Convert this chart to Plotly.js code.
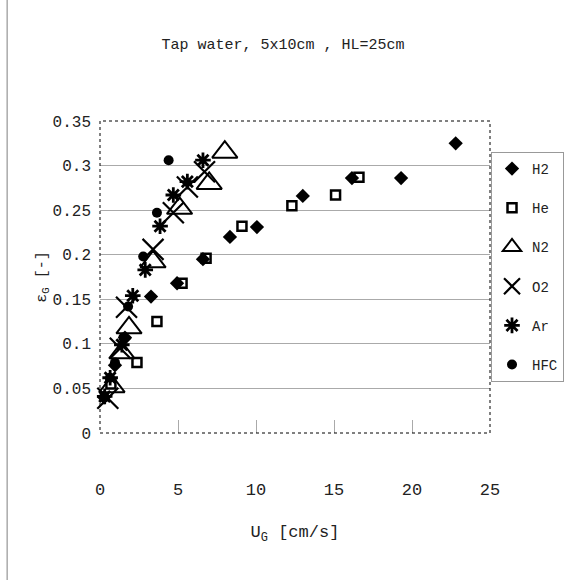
<!DOCTYPE html>
<html>
<head>
<meta charset="utf-8">
<script src="https://cdn.plot.ly/plotly-3.0.1.min.js"></script>
<style>html,body{margin:0;padding:0;background:#fff;}#chart{width:566px;height:580px;}</style>
</head>
<body>
<div id="chart"></div>
<script>
// Data (U_G in cm/s, gas holdup in -)
const seriesNames = ["H2", "He", "N2", "O2", "Ar", "HFC"];

const h2_x = [0.26, 0.96, 1.6, 3.27, 4.94, 6.6, 8.33, 10.06, 13.0, 16.15, 19.3, 22.8];
const h2_y = [0.040, 0.076, 0.107, 0.153, 0.168, 0.195, 0.220, 0.231, 0.266, 0.286, 0.286, 0.325];

const he_x = [0.7, 2.37, 3.65, 5.26, 6.8, 9.1, 12.3, 15.1, 16.6];
const he_y = [0.055, 0.079, 0.125, 0.168, 0.196, 0.232, 0.255, 0.267, 0.287];

const n2_x = [0.77, 1.4, 1.86, 3.4, 5.1, 7.0, 8.0];
const n2_y = [0.052, 0.090, 0.118, 0.192, 0.252, 0.280, 0.315];

const o2_x = [0.5, 1.3, 1.7, 3.4, 4.7, 5.6, 6.7];
const o2_y = [0.039, 0.095, 0.141, 0.206, 0.247, 0.276, 0.293];

const ar_x = [0.3, 0.65, 1.4, 2.1, 2.9, 3.85, 4.7, 5.6, 6.6];
const ar_y = [0.041, 0.062, 0.099, 0.154, 0.183, 0.232, 0.267, 0.282, 0.306];

const hfc_x = [0.3, 0.64, 0.96, 1.5, 1.8, 2.77, 3.65, 4.4];
const hfc_y = [0.040, 0.062, 0.079, 0.107, 0.142, 0.198, 0.247, 0.306];

const yTicks = [0, 0.05, 0.1, 0.15, 0.2, 0.25, 0.3, 0.35];
const xTicks = [0, 5, 10, 15, 20, 25];

const FONT = "Liberation Mono, Courier New, monospace";

function tr(name, xs, ys, marker, i) {
  return {type: "scatter", mode: "markers", name: name, x: xs, y: ys,
          marker: marker, legendgroup: "g" + i, cliponaxis: false};
}

const traces = [
  tr(seriesNames[0], h2_x, h2_y, {symbol: "diamond", size: 11, color: "#000"}, 0),
  tr(seriesNames[1], he_x, he_y, {symbol: "square-open", size: 9, color: "#000", line: {width: 2.5, color: "#000"}}, 1),
  tr(seriesNames[2], n2_x, n2_y, {symbol: "triangle-up-open", size: 22, color: "#000", line: {width: 2, color: "#000"}}, 2),
  tr(seriesNames[3], o2_x, o2_y, {symbol: "x-thin-open", size: 21, color: "#000", line: {width: 2.2, color: "#000"}}, 3),
  tr(seriesNames[4], ar_x, ar_y, {symbol: "asterisk-open", size: 13, color: "#000", line: {width: 2.8, color: "#000"}}, 4),
  tr(seriesNames[5], hfc_x, hfc_y, {symbol: "circle", size: 10, color: "#000"}, 5)
];

const layout = {
  width: 566, height: 580,
  margin: {l: 100, r: 76, t: 121, b: 147},
  paper_bgcolor: "#fff", plot_bgcolor: "#fff",
  font: {family: FONT, size: 17, color: "#222"},
  title: {text: "Tap water, 5x10cm , HL=25cm", font: {family: FONT, size: 15, color: "#222"},
          x: 0.5, xanchor: "center", y: 0.925, yanchor: "middle"},
  showlegend: true,
  legend: {xref: "container", yref: "container", x: 0.8675, xanchor: "left", y: 0.738, yanchor: "top",
           bordercolor: "#999", borderwidth: 1, bgcolor: "#fff",
           font: {family: FONT, size: 14, color: "#222"},
           tracegroupgap: 18, itemwidth: 30},
  xaxis: {range: [0, 25], tickvals: xTicks, ticks: "inside", ticklen: 13, tickcolor: "#aaa",
          showgrid: false, zeroline: false, showline: false,
          ticklabelstandoff: 44, tickfont: {family: FONT, size: 17, color: "#222"},
          title: {text: "U<sub>G</sub> [cm/s]", font: {family: FONT, size: 17, color: "#222"}, standoff: 26}},
  yaxis: {range: [0, 0.35], tickvals: yTicks, ticks: "", showgrid: true, gridcolor: "#aaa", gridwidth: 1,
          zeroline: false, showline: false, ticklabelstandoff: 8,
          tickfont: {family: FONT, size: 16, color: "#222"},
          title: {text: "ε<sub>G</sub> [-]", font: {family: FONT, size: 15, color: "#222"}, standoff: 2}},
  shapes: [
    {type: "rect", xref: "paper", yref: "paper", x0: 0, x1: 1, y0: 0, y1: 1,
     line: {color: "#000", width: 1, dash: "dot"}, layer: "above"},
    {type: "line", xref: "paper", yref: "paper", x0: -0.238, x1: -0.238, y0: -0.48, y1: 1.4,
     line: {color: "#aaa", width: 1.5}}
  ]
};

Plotly.newPlot("chart", traces, layout, {staticPlot: true});
</script>
</body>
</html>
